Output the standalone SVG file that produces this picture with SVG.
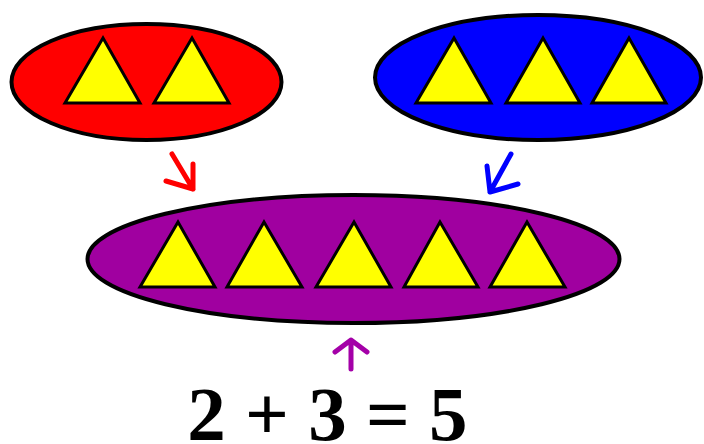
<svg xmlns="http://www.w3.org/2000/svg" width="704" height="444" viewBox="0 0 704 444">
<style>
.set{stroke:#000;stroke-width:4}
.tri{fill:#ffff00;stroke:#000;stroke-width:3;stroke-linejoin:miter}
.arr{fill:none;stroke-width:5;stroke-linecap:round;stroke-linejoin:round}
.eq{font-family:"Liberation Serif","Times New Roman",serif;font-weight:bold;font-size:77px;fill:#000}
</style>
<rect width="704" height="444" fill="#fff"/>
<g id="red-set">
<ellipse class="set" cx="146.5" cy="82" rx="135" ry="58" fill="#ff0000"/>
<polygon class="tri" points="103,38 65,103 140,103"/>
<polygon class="tri" points="192,38 154,103 229,103"/>
</g>
<g id="blue-set">
<ellipse class="set" cx="538" cy="77.5" rx="163" ry="62.5" fill="#0000ff"/>
<polygon class="tri" points="454,38 416,103 491,103"/>
<polygon class="tri" points="543,38 506,103 580,103"/>
<polygon class="tri" points="629,38 592,103 666,103"/>
</g>
<g id="purple-set">
<ellipse class="set" cx="353.5" cy="259" rx="266" ry="64" fill="#a000a0"/>
<polygon class="tri" points="178,222 140,287 215,287"/>
<polygon class="tri" points="264,222 227,287 302,287"/>
<polygon class="tri" points="354,222 316,287 391,287"/>
<polygon class="tri" points="440,222 404,287 478,287"/>
<polygon class="tri" points="527,222 490,287 565,287"/>
</g>
<g id="connectors">
<path class="arr" stroke="#ff0000" d="M172,154 L193,189 M166,181 L193,189 L193,164"/>
<path class="arr" stroke="#0000ff" d="M511,154 L490,192 M487,166 L490,192 L518,184"/>
<path class="arr" stroke="#a400a8" d="M351,369 L351,340 M335,352 L351,340 L367,352"/>
</g>
<g id="equation">
<text class="eq" x="327.5" y="440" text-anchor="middle">2 + 3 = 5</text>
</g>
</svg>
